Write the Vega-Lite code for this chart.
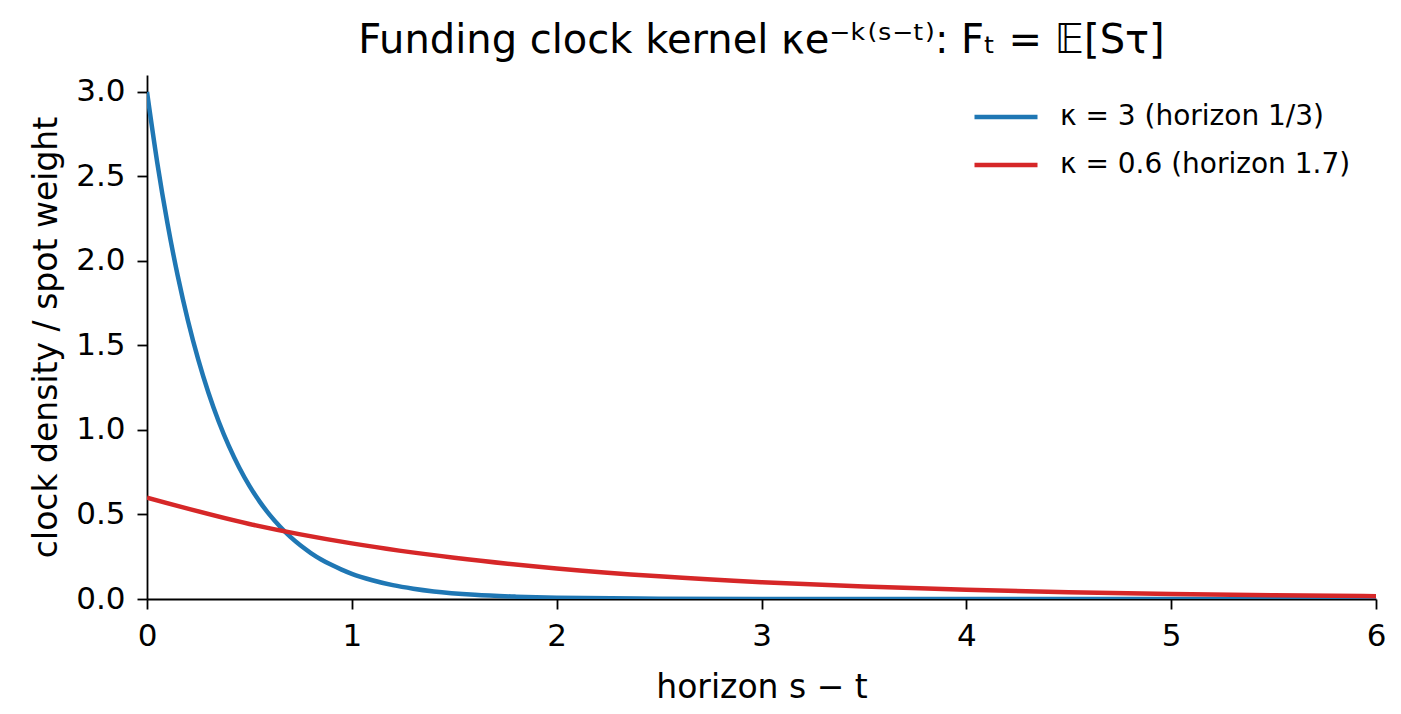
{
  "$schema": "https://vega.github.io/schema/vega-lite/v6.json",
  "autosize": "none",
  "padding": {"left": 147, "top": 75, "right": 25, "bottom": 115},
  "width": 1229,
  "height": 524,
  "background": "white",
  "config": {
    "font": "DejaVu Sans",
    "view": {"stroke": null},
    "axis": {
      "grid": false,
      "domainColor": "black",
      "domainWidth": 1.8,
      "tickColor": "black",
      "tickWidth": 1.8,
      "tickSize": 10,
      "labelFont": "DejaVu Sans",
      "labelFontSize": 31,
      "labelColor": "black",
      "labelFlush": false,
      "titleFont": "DejaVu Sans",
      "titleFontSize": 33,
      "titleFontWeight": "normal",
      "titleColor": "black"
    }
  },
  "title": {
    "text": "Funding clock kernel κe⁻ᵏ⁽ˢ⁻ᵗ⁾: Fₜ = 𝔼[Sτ]",
    "font": "DejaVu Sans",
    "fontSize": 40,
    "fontWeight": "normal",
    "color": "black",
    "anchor": "middle",
    "offset": 14
  },
  "data": {
    "values": [
      {"x": 0, "y": 3.0, "series": "κ = 3 (horizon 1/3)"},
      {"x": 0.05, "y": 2.582, "series": "κ = 3 (horizon 1/3)"},
      {"x": 0.1, "y": 2.222, "series": "κ = 3 (horizon 1/3)"},
      {"x": 0.15, "y": 1.912, "series": "κ = 3 (horizon 1/3)"},
      {"x": 0.2, "y": 1.646, "series": "κ = 3 (horizon 1/3)"},
      {"x": 0.25, "y": 1.417, "series": "κ = 3 (horizon 1/3)"},
      {"x": 0.3, "y": 1.220, "series": "κ = 3 (horizon 1/3)"},
      {"x": 0.35, "y": 1.050, "series": "κ = 3 (horizon 1/3)"},
      {"x": 0.4, "y": 0.904, "series": "κ = 3 (horizon 1/3)"},
      {"x": 0.45, "y": 0.778, "series": "κ = 3 (horizon 1/3)"},
      {"x": 0.5, "y": 0.669, "series": "κ = 3 (horizon 1/3)"},
      {"x": 0.55, "y": 0.576, "series": "κ = 3 (horizon 1/3)"},
      {"x": 0.6, "y": 0.496, "series": "κ = 3 (horizon 1/3)"},
      {"x": 0.65, "y": 0.427, "series": "κ = 3 (horizon 1/3)"},
      {"x": 0.7, "y": 0.367, "series": "κ = 3 (horizon 1/3)"},
      {"x": 0.75, "y": 0.316, "series": "κ = 3 (horizon 1/3)"},
      {"x": 0.8, "y": 0.272, "series": "κ = 3 (horizon 1/3)"},
      {"x": 0.85, "y": 0.234, "series": "κ = 3 (horizon 1/3)"},
      {"x": 0.9, "y": 0.202, "series": "κ = 3 (horizon 1/3)"},
      {"x": 0.95, "y": 0.174, "series": "κ = 3 (horizon 1/3)"},
      {"x": 1.0, "y": 0.149, "series": "κ = 3 (horizon 1/3)"},
      {"x": 1.1, "y": 0.111, "series": "κ = 3 (horizon 1/3)"},
      {"x": 1.2, "y": 0.082, "series": "κ = 3 (horizon 1/3)"},
      {"x": 1.3, "y": 0.061, "series": "κ = 3 (horizon 1/3)"},
      {"x": 1.4, "y": 0.045, "series": "κ = 3 (horizon 1/3)"},
      {"x": 1.6, "y": 0.025, "series": "κ = 3 (horizon 1/3)"},
      {"x": 1.8, "y": 0.014, "series": "κ = 3 (horizon 1/3)"},
      {"x": 2.0, "y": 0.0074, "series": "κ = 3 (horizon 1/3)"},
      {"x": 2.5, "y": 0.0017, "series": "κ = 3 (horizon 1/3)"},
      {"x": 3.0, "y": 0.0004, "series": "κ = 3 (horizon 1/3)"},
      {"x": 4.0, "y": 0.0, "series": "κ = 3 (horizon 1/3)"},
      {"x": 5.0, "y": 0.0, "series": "κ = 3 (horizon 1/3)"},
      {"x": 6.0, "y": 0.0, "series": "κ = 3 (horizon 1/3)"},
      {"x": 0, "y": 0.6, "series": "κ = 0.6 (horizon 1.7)"},
      {"x": 0.5, "y": 0.444, "series": "κ = 0.6 (horizon 1.7)"},
      {"x": 1.0, "y": 0.329, "series": "κ = 0.6 (horizon 1.7)"},
      {"x": 1.5, "y": 0.244, "series": "κ = 0.6 (horizon 1.7)"},
      {"x": 2.0, "y": 0.181, "series": "κ = 0.6 (horizon 1.7)"},
      {"x": 2.5, "y": 0.134, "series": "κ = 0.6 (horizon 1.7)"},
      {"x": 3.0, "y": 0.099, "series": "κ = 0.6 (horizon 1.7)"},
      {"x": 3.5, "y": 0.0735, "series": "κ = 0.6 (horizon 1.7)"},
      {"x": 4.0, "y": 0.0544, "series": "κ = 0.6 (horizon 1.7)"},
      {"x": 4.5, "y": 0.0403, "series": "κ = 0.6 (horizon 1.7)"},
      {"x": 5.0, "y": 0.0299, "series": "κ = 0.6 (horizon 1.7)"},
      {"x": 5.5, "y": 0.0221, "series": "κ = 0.6 (horizon 1.7)"},
      {"x": 6.0, "y": 0.0164, "series": "κ = 0.6 (horizon 1.7)"}
    ]
  },
  "mark": {"type": "line", "strokeWidth": 4.5, "interpolate": "monotone", "clip": true},
  "encoding": {
    "x": {
      "field": "x",
      "type": "quantitative",
      "title": "horizon s − t",
      "scale": {"domain": [0, 6], "nice": false},
      "axis": {"values": [0, 1, 2, 3, 4, 5, 6], "format": "d", "titlePadding": 20, "labelPadding": 12}
    },
    "y": {
      "field": "y",
      "type": "quantitative",
      "title": "clock density / spot weight",
      "scale": {"domain": [0, 3.1], "nice": false, "zero": true},
      "axis": {"values": [0, 0.5, 1, 1.5, 2, 2.5, 3], "format": ".1f", "titlePadding": 12, "labelPadding": 12}
    },
    "color": {
      "field": "series",
      "type": "nominal",
      "sort": ["κ = 3 (horizon 1/3)", "κ = 0.6 (horizon 1.7)"],
      "scale": {"domain": ["κ = 3 (horizon 1/3)", "κ = 0.6 (horizon 1.7)"], "range": ["#1f77b4", "#d62728"]},
      "legend": {
        "title": null,
        "orient": "none",
        "legendX": 825,
        "legendY": 8,
        "symbolType": "stroke",
        "symbolSize": 3969,
        "symbolStrokeWidth": 4.5,
        "labelFont": "DejaVu Sans",
        "labelFontSize": 28,
        "labelColor": "black",
        "labelLimit": 500,
        "labelOffset": 20,
        "rowPadding": -16
      }
    }
  }
}
